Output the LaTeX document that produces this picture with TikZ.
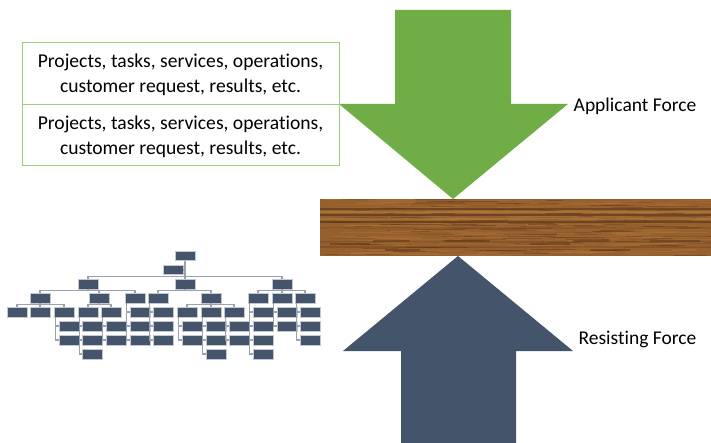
\documentclass[tikz,border=0pt]{standalone}
\usepackage{fontspec}
\setmainfont[Ligatures=NoCommon]{Carlito}
\definecolor{arrowgreen}{HTML}{70AD47}
\definecolor{boxgreen}{HTML}{A0CC82}
\definecolor{slate}{HTML}{44546A}
\definecolor{orgline}{HTML}{9AA2AF}
\definecolor{orgedge}{HTML}{C3C8D0}
\definecolor{woodbase}{HTML}{96602E}
\definecolor{wooddark}{HTML}{5A3418}
\definecolor{woodplum}{HTML}{6B3424}
\definecolor{woodgold}{HTML}{A5853A}
\definecolor{woodlight}{HTML}{B27538}
\tikzset{
  textbox/.style={draw=boxgreen,line width=1pt,minimum width=317pt,minimum height=61.5pt,inner sep=0pt},
  boxtext/.style={inner sep=0pt,align=center,font=\fontsize{19.6}{25}\selectfont,text=black},
  label/.style={font=\fontsize{19.5}{22}\selectfont,text=black,inner sep=0pt},
  orgbox/.style={fill=slate,draw=orgedge,line width=.5pt,minimum width=19.5pt,minimum height=9.5pt,inner sep=0pt},
  orgwire/.style={draw=orgline,line width=1.5pt}
}
\begin{document}
\begin{tikzpicture}[x=1pt,y=-1pt]
\useasboundingbox (0,0) rectangle (711,443);
\fill[white] (0,0) rectangle (711,443);
% wood board
\fill[woodbase] (320,199) rectangle (711,256);
\pgfmathsetseed{42}
\foreach \i in {1,...,420}{
  \pgfmathsetmacro{\sx}{320+rnd*360}
  \pgfmathsetmacro{\sy}{199.5+rnd*56}
  \pgfmathsetmacro{\sl}{15+rnd*40}
  \pgfmathsetmacro{\sxe}{min(\sx+\sl,711)}
  \pgfmathsetmacro{\op}{.2+rnd*.25}
  \pgfmathtruncatemacro{\pick}{int(rnd*3)}
  \ifcase\pick\relax
    \draw[woodlight,opacity=\op,line width=1.2pt] (\sx,\sy) -- (\sxe,\sy);
  \or
    \draw[wooddark,opacity=\op,line width=.8pt] (\sx,\sy) -- (\sxe,\sy);
  \or
    \draw[woodlight,opacity=\op,line width=1pt] (\sx,\sy) -- (\sxe,\sy);
  \fi
}
\foreach \yy/\cc/\oo/\ww in {209/wooddark/.6/1.3,212/woodgold/.6/1.6,215/woodplum/.75/1.6,219/woodgold/.55/1.8,222/wooddark/.65/1.4,228/wooddark/.2/1.2,242/wooddark/.25/1.3,247/wooddark/.3/1.2}{
  \draw[\cc,opacity=\oo,line width=\ww pt] (320,\yy) -- (711,\yy);
}
\foreach \xa/\xb/\yy in {373/410/241,445/490/241,573/610/241,650/700/241,385/420/250,590/630/250,330/370/244,530/570/244}{
  \draw[wooddark,opacity=.5,line width=1.5pt] (\xa,\yy) -- (\xb,\yy);
}
% arrows
\fill[arrowgreen] (395,10) -- (511,10) -- (511,104) -- (568,104) -- (453,199) -- (339,104) -- (395,104) -- cycle;
\fill[slate] (458,256) -- (573,351) -- (516,351) -- (516,443) -- (401,443) -- (401,351) -- (343,351) -- cycle;
% text boxes
\node[textbox] (upper) at (180.5,73.75) {};
\node[textbox] (lower) at (180.5,135.25) {};
\node[boxtext] (uppertext) at ([yshift=-1.5pt]upper.center) {Projects, tasks, services, operations,\\customer request, results, etc.};
\node[boxtext] (lowertext) at ([yshift=-1.5pt]lower.center) {Projects, tasks, services, operations,\\customer request, results, etc.};
\node[label] (applicant) at (635,106.5) {Applicant Force};
\node[label] (resisting) at (637.5,339.5) {Resisting Force};
% organisation chart
\node[orgbox] (top) at (185,256) {};
\node[orgbox] (assistant) at (173,270) {};
\foreach \x in {88,185,282}{\node[orgbox] (n\x x1) at (\x,284) {};}
\foreach \x in {40,99,135,158,211,258,282,305}{\node[orgbox] (n\x x2) at (\x,298) {};}
\foreach \x in {17,40,64,88,111,140,163,187,211,234,263,287,310}{\node[orgbox] (n\x x3) at (\x,312) {};}
\foreach \x in {69,92,116,140,163,192,216,239,263,287,310}{\node[orgbox] (n\x x4) at (\x,326) {};}
\foreach \x in {69,92,116,140,163,192,216,239,263,310}{\node[orgbox] (n\x x5) at (\x,340) {};}
\foreach \x in {92,216,263}{\node[orgbox] (n\x x6) at (\x,354) {};}
% tree wiring
\draw[orgwire] (assistant.east) -- (top.south |- assistant.east);
\foreach \c in {n88x1,n185x1,n282x1}{\draw[orgwire] (\c.north) -- ++(0,-2.5) -| (top.south);}
\foreach \p/\c in {n88x1/n40x2,n88x1/n99x2,n88x1/n135x2,n185x1/n158x2,n185x1/n211x2,n282x1/n258x2,n282x1/n282x2,n282x1/n305x2,
  n40x2/n17x3,n40x2/n40x3,n40x2/n64x3,n99x2/n88x3,n99x2/n111x3,n211x2/n187x3,n211x2/n211x3,n211x2/n234x3}{
  \draw[orgwire] (\c.north) -- ++(0,-2.5) -| (\p.south);
}
\foreach \p/\c in {n64x3/n69x4,n64x3/n69x5,n88x3/n92x4,n88x3/n92x5,n88x3/n92x6,n111x3/n116x4,n111x3/n116x5,
  n135x2/n140x3,n135x2/n140x4,n135x2/n140x5,n158x2/n163x3,n158x2/n163x4,n158x2/n163x5,
  n187x3/n192x4,n187x3/n192x5,n211x3/n216x4,n211x3/n216x5,n211x3/n216x6,n234x3/n239x4,n234x3/n239x5,
  n258x2/n263x3,n258x2/n263x4,n258x2/n263x5,n258x2/n263x6,n282x2/n287x3,n282x2/n287x4,n305x2/n310x3,n305x2/n310x4,n305x2/n310x5}{
  \draw[orgwire] ([xshift=1.5pt]\p.south west) |- (\c.west);
}
\end{tikzpicture}
\end{document}
